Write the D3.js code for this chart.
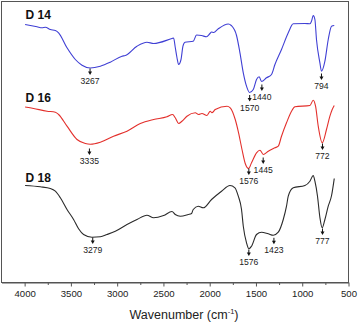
<!DOCTYPE html>
<html><head><meta charset="utf-8">
<script src="https://cdn.jsdelivr.net/npm/d3@7"></script>
<style>body{margin:0;background:#fff}svg{display:block;font-family:"Liberation Sans",Arial,sans-serif}</style>
</head><body>
<script>
// Wavenumbers (cm-1) and transmittance (arbitrary units, stacked offsets)
const d14Wn = [3995,3866,3812,3776,3722,3668,3633,3542,3452,3380,3290,3182,3074,2948,2912,2786,2678,2606,2408,2390,2372,2354,2336,2310,2289,2267,2178,2142,2088,2034,1997,1980,1958,1907,1799,1767,1710,1673,1637,1602,1569,1529,1494,1465,1440,1386,1332,1295,1224,1151,1097,971,917,900,881,863,846,809,792,755,719,683,654];
const d14T  = [258,255.7,254.7,255.3,253,252,249.7,234.7,223,217.3,214.5,216.3,220.3,226.3,227,236.3,240.3,239,244,244.5,235,225,218,223,236.3,240.3,241.3,247.5,247,245.7,249,250.5,250,253.7,258.5,257,247,229.7,209.7,196.3,190,193,203,205.7,201,204.7,208,218,233,249.7,258.7,259,258.7,261.3,267,263,243,219.7,211.3,221.3,243,256.3,257];

const d16Wn = [3995,3903,3758,3668,3633,3542,3434,3344,3290,3182,3039,2894,2750,2606,2462,2401,2372,2336,2300,2246,2156,2120,2084,2030,1994,1976,1940,1813,1778,1724,1688,1651,1616,1580,1548,1494,1457,1421,1367,1295,1259,1224,1170,1116,1079,917,881,856,827,784,738,701,676,654];
const d16T  = [175.5,174,171.3,170.3,168,156.3,143,139,138.3,140.3,146.3,151.3,159,163,165.7,168,164.7,159,161.3,166.3,169.7,168,169,167,171.3,169.7,173,176.3,174.7,163,149.7,133,119,114,119.7,129.7,132.3,128,131.3,134.7,136.3,146.3,159.7,171.3,175.7,177,182.3,176.3,156.3,139.7,153,166.3,173,177];

const d18Wn = [3995,3830,3722,3668,3614,3542,3471,3417,3363,3272,3182,3110,3020,2894,2786,2678,2606,2498,2408,2372,2318,2232,2196,2178,2124,2070,1980,1872,1781,1727,1691,1656,1637,1602,1576,1548,1494,1440,1367,1313,1259,1205,1170,1151,1097,971,917,881,863,835,809,784,755,719,683,654];
const d18T  = [97,95.7,94,91.3,84.7,73,63,53.7,48,45.3,45.7,48,51.3,58,63,67.3,64.7,67,71,68,66.3,68,69,73,76.3,74.7,83,91.3,97,94.7,86.3,73,56.3,39.7,33.7,36.3,48,50.3,48.7,47.3,50.3,63,76.3,86.3,94.7,97,101.3,107,101.3,86.3,65,54.7,63,76.3,87,104];

const seriesNames = ["D 14","D 16","D 18"];
const seriesColors = ["#3f3fd4","#e3302c","#2a2a2a"];
const seriesNameT = [264,181,101];   // transmittance level of the series name

// Peak annotations: arrow position (cm-1), arrow top level, label text
const peakSeries = [0,0,0,0, 1,1,1,1, 2,2,2,2];
const peakWn   = [3293,1568,1436,792, 3300,1577,1422,781, 3264,1577,1306,781];
const peakT    = [214,187.5,198,209, 134,114,125,139, 45,33,44.7,54];
const peakText = ["3267","1570","1440","794","3335","1576","1445","772","3279","1576","1423","777"];

const xTicks = [4000,3500,3000,2500,2000,1500,1000,500];
const xMinor = [4250,3750,3250,2750,2250,1750,1250,750];
const xTitle = "Wavenumber (cm";

const W = 358, H = 323;
const L = 1.5, T = 1.5, R = 348.5, B = 282.5;
const svg = d3.select("body").append("svg").attr("width", W).attr("height", H);

const x = d3.scaleLinear().domain([4250, 500]).range([L, R]);
const y = d3.scaleLinear().domain([0, 281]).range([B, T]);

// frame
svg.append("rect").attr("x", L).attr("y", T).attr("width", R - L).attr("height", B - T)
  .attr("fill", "none").attr("stroke", "#555").attr("stroke-width", 1);

// axis
const ax = svg.append("g").attr("transform", `translate(0,${B})`)
  .call(d3.axisBottom(x).tickValues(xTicks).tickSize(4).tickSizeOuter(0).tickFormat(d3.format("d")));
ax.select(".domain").attr("stroke", "#555");
ax.selectAll(".tick line").attr("stroke", "#555");
ax.selectAll(".tick text").attr("font-size", "9.6px").attr("fill", "#222").attr("dy", "0.78em").attr("y", 7.5)
  .attr("font-family", "'Liberation Sans',Arial,sans-serif");
const axm = svg.append("g").attr("transform", `translate(0,${B})`)
  .call(d3.axisBottom(x).tickValues(xMinor.filter(v => v < 4250)).tickSize(2.5).tickFormat(""));
axm.select(".domain").remove();
axm.selectAll(".tick line").attr("stroke", "#555");

const tt = svg.append("text").attr("x", 184).attr("y", 319).attr("text-anchor", "middle")
  .attr("font-size", "12.5px").attr("fill", "#222");
tt.append("tspan").text(xTitle);
tt.append("tspan").text("-1").attr("font-size", "7.5px").attr("dy", -5);
tt.append("tspan").text(")").attr("dy", 5);

// lines
const data = [[d14Wn, d14T], [d16Wn, d16T], [d18Wn, d18T]];
const line = d3.line().x(d => x(d[0])).y(d => y(d[1])).curve(d3.curveMonotoneX);
data.forEach((s, i) => {
  const pts = s[0].map((w, j) => [w, s[1][j]]).sort((a, b) => b[0] - a[0]).map(d => d);
  svg.append("path").datum(pts.slice().reverse()).attr("d", d3.line().x(d => x(d[0])).y(d => y(d[1])).curve(d3.curveMonotoneX)(pts))
    .attr("fill", "none").attr("stroke", seriesColors[i]).attr("stroke-width", 1.1).attr("stroke-linejoin", "round");
  svg.append("text").attr("x", x(3990)).attr("y", y(seriesNameT[i])).text(seriesNames[i])
    .attr("font-size", "12px").attr("font-weight", "bold").attr("fill", "#111");
});

// annotations
peakWn.forEach((w, i) => {
  const px = x(w), py = y(peakT[i]);
  const g = svg.append("g");
  g.append("line").attr("x1", px).attr("x2", px).attr("y1", py).attr("y2", py + 3.5)
    .attr("stroke", "#111").attr("stroke-width", 1);
  g.append("path").attr("d", `M${px - 2},${py + 3} L${px + 2},${py + 3} L${px},${py + 6.5} Z`).attr("fill", "#111");
  g.append("text").attr("x", px).attr("y", py + 15.5).attr("text-anchor", "middle")
    .attr("font-size", "8.6px").attr("fill", "#222").text(peakText[i]);
});
</script>
</body></html>
